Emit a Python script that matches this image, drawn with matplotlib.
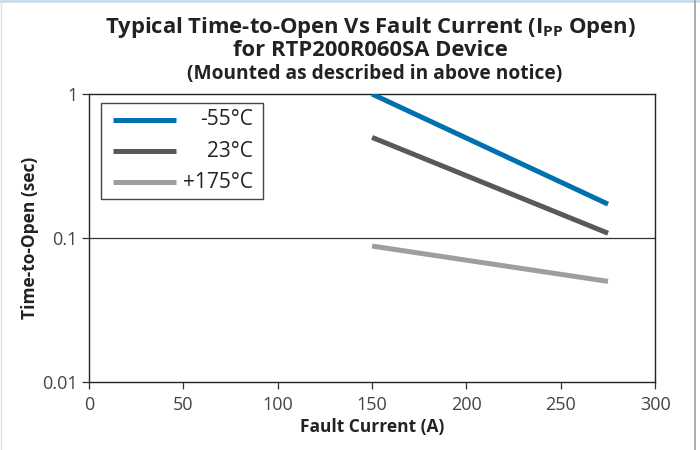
import numpy as np
import matplotlib.pyplot as plt
from matplotlib.patches import Rectangle
from matplotlib.lines import Line2D

# Data
fault_current = [150, 275]
t_minus55 = [1.0, 0.172]
t_23 = [0.50, 0.108]
t_175 = [0.088, 0.050]

labels = ['-55°C', '23°C', '+175°C']
colors = ['#0071AE', '#58595B', '#9D9EA2']
x_ticks = [0, 50, 100, 150, 200, 250, 300]
y_ticks = [0.01, 0.1, 1]
y_ticklabels = ['0.01', '0.1', '1']

plt.rcParams['font.family'] = ['Open Sans', 'DejaVu Sans']
plt.rcParams['mathtext.fontset'] = 'custom'
plt.rcParams['mathtext.bf'] = 'Open Sans:bold'

fig = plt.figure(figsize=(7, 4.5), dpi=100)
ax = fig.add_axes([0.127, 0.151, 0.809, 0.640])

series = [t_minus55, t_23, t_175]
for vals, col in zip(series, colors):
    ax.plot(fault_current, vals, color=col, lw=3.6, solid_capstyle='butt', zorder=3)

ax.set_yscale('log')
ax.set_xlim(0, 300)
ax.set_ylim(0.01, 1)
ax.set_xticks(x_ticks)
ax.set_xticklabels([str(v) for v in x_ticks])
ax.set_yticks(y_ticks)
ax.set_yticklabels(y_ticklabels)
ax.minorticks_off()
ax.tick_params(axis='both', direction='out', length=5, width=0.9, color='#333333',
               labelsize=13, labelcolor='#444444')
ax.tick_params(axis='x', pad=5)
ax.tick_params(axis='y', pad=3)
ax.axhline(0.1, color='#333333', lw=0.9, zorder=2)
for s in ax.spines.values():
    s.set_color('#222222')
    s.set_linewidth(1.0)

ax.set_xlabel('Fault Current (A)', fontsize=12.5, fontweight='bold', color='#222222', labelpad=3)
ax.set_ylabel('Time-to-Open (sec)', fontsize=12.5, fontweight='bold', color='#222222', labelpad=2)

# Legend drawn by hand so labels are right-aligned
ax.add_patch(Rectangle((0.021, 0.635), 0.286, 0.334, transform=ax.transAxes,
                       facecolor='white', edgecolor='#444444', lw=1.0, zorder=4))
rows_y = [0.910, 0.802, 0.694]
for lab, col, yy in zip(labels, colors, rows_y):
    ax.add_line(Line2D([0.042, 0.154], [yy, yy], transform=ax.transAxes, color=col,
                       lw=3.6, solid_capstyle='butt', zorder=5))
    ax.text(0.289, yy, lab, transform=ax.transAxes, ha='right', va='center',
            fontsize=15, color='#222222', zorder=5)

fig.text(0.529, 0.927, 'Typical Time-to-Open Vs Fault Current (I$_{\\mathbf{PP}}$ Open)',
         ha='center', va='baseline', fontsize=15.8, fontweight='bold', color='#222222')
fig.text(0.529, 0.876, 'for RTP200R060SA Device', ha='center', va='baseline',
         fontsize=15.8, fontweight='bold', color='#222222')
fig.text(0.535, 0.824, '(Mounted as described in above notice)', ha='center', va='baseline',
         fontsize=13.8, fontweight='bold', color='#222222')

# thin frame lines of the original image
fig.add_artist(Line2D([0, 1], [0.997, 0.997], transform=fig.transFigure, color='#C5DCEE', lw=2))
fig.add_artist(Line2D([0.993, 0.993], [0, 1], transform=fig.transFigure, color='#A0A0A0', lw=1.2))
fig.add_artist(Line2D([0.002, 0.002], [0, 1], transform=fig.transFigure, color='#E0E0E0', lw=1))

fig.savefig('out.png', dpi=100)
